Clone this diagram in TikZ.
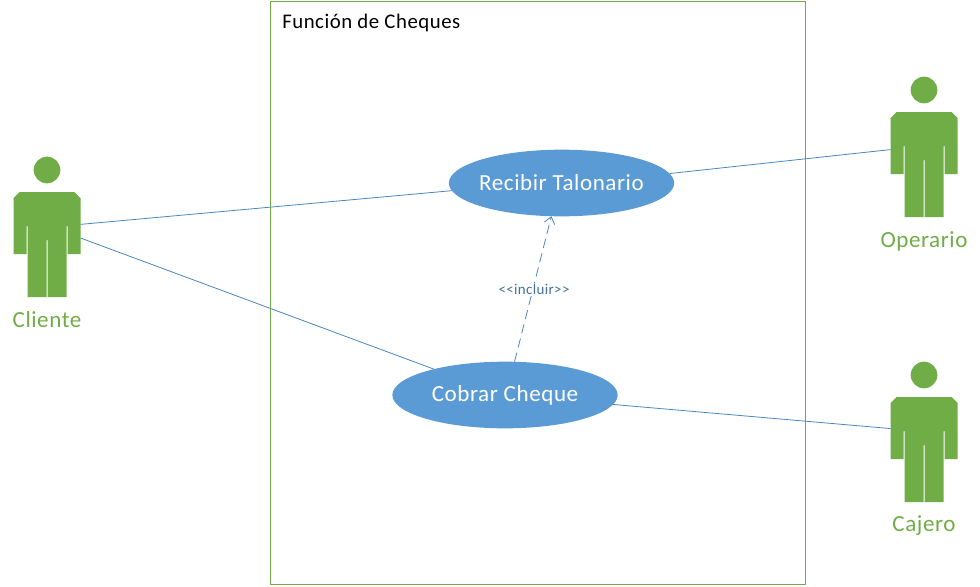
\documentclass[tikz,border=0pt]{standalone}
\usepackage{fontspec}
\setmainfont[LetterSpace=2.5]{Carlito}
\usetikzlibrary{shapes.geometric,arrows.meta}
\definecolor{actorgreen}{HTML}{70AD47}
\definecolor{caseblue}{HTML}{5B9BD5}
\definecolor{linkblue}{HTML}{4A86BE}
\definecolor{incluirblue}{HTML}{44709F}
\tikzset{
  usecase/.style={shape=ellipse,fill=caseblue,text=white,minimum width=169pt,minimum height=50pt,inner sep=-8pt,outer sep=0pt,font=\fontsize{17.3pt}{20pt}\selectfont},
  actorbox/.style={shape=rectangle,minimum width=50.25pt,minimum height=78.75pt,inner sep=0pt,outer sep=0pt},
  actorlabel/.style={text=actorgreen,inner sep=0pt,font=\fontsize{17.3pt}{20pt}\selectfont},
  link/.style={linkblue,line width=0.6pt},
  actorfig/.pic={
    \fill[actorgreen] (0,-74.5) circle (10pt);
    \fill[actorgreen] (-27.5,-52.5) -- (27.5,-52.5) -- (33.5,-46.5) -- (33.5,9.5) -- (20.5,9.5)
      -- (20.5,-18.5) -- (19.5,-18.5) -- (19.5,52.5) -- (0.5,52.5) -- (0.5,-4.5) -- (-0.5,-4.5)
      -- (-0.5,52.5) -- (-19.5,52.5) -- (-19.5,-18.5) -- (-20.5,-18.5) -- (-20.5,9.5)
      -- (-33.5,9.5) -- (-33.5,-46.5) -- cycle;
  }
}
\begin{document}
\begin{tikzpicture}[x=0.75pt,y=-0.75pt]
\useasboundingbox (0,0) rectangle (980,586);

\draw node (sistema) at (537.5,292.5) [shape=rectangle,draw=actorgreen,line width=0.75pt,minimum width=401.25pt,minimum height=437.25pt,inner sep=0pt]{};
\draw node (titulo) at (282,23) [anchor=west,inner sep=0pt,font=\fontsize{15.6pt}{18pt}\selectfont]{Función de Cheques};

\draw node (recibir) at (561.5,183) [usecase]{Recibir Talonario};
\draw node (cobrar) at (505,395) [usecase]{Cobrar Cheque};

\draw node (cliente) at (47,244.5) [actorbox]{};
\draw node (operario) at (924,164.5) [actorbox]{};
\draw node (cajero) at (924,449.5) [actorbox]{};
\draw pic at (cliente) {actorfig};
\draw pic at (operario) {actorfig};
\draw pic at (cajero) {actorfig};
\draw node (clientelabel) at (47,320) [actorlabel]{Cliente};
\draw node (operariolabel) at (924,241) [actorlabel]{Operario};
\draw node (cajerolabel) at (924,526) [actorlabel]{Cajero};

\draw[link] (cliente.31.5) -- (recibir.184.8)
  (cliente.11) -- (cobrar.160.3)
  (recibir.5.8) -- (operario.156.6)
  (cobrar.355.3) -- (cajero.148.5);
\draw[link,dashed,dash pattern=on 7pt off 4pt,-{Straight Barb[length=5pt,width=8pt]}] (cobrar.74.7) -- (recibir.253);
\draw node (incluir) at (534,289.5) [fill=white,text=incluirblue,inner sep=1pt,font=\fontsize{11.2pt}{12pt}\selectfont]{{<}{<}incluir{>}{>}};
\end{tikzpicture}
\end{document}
